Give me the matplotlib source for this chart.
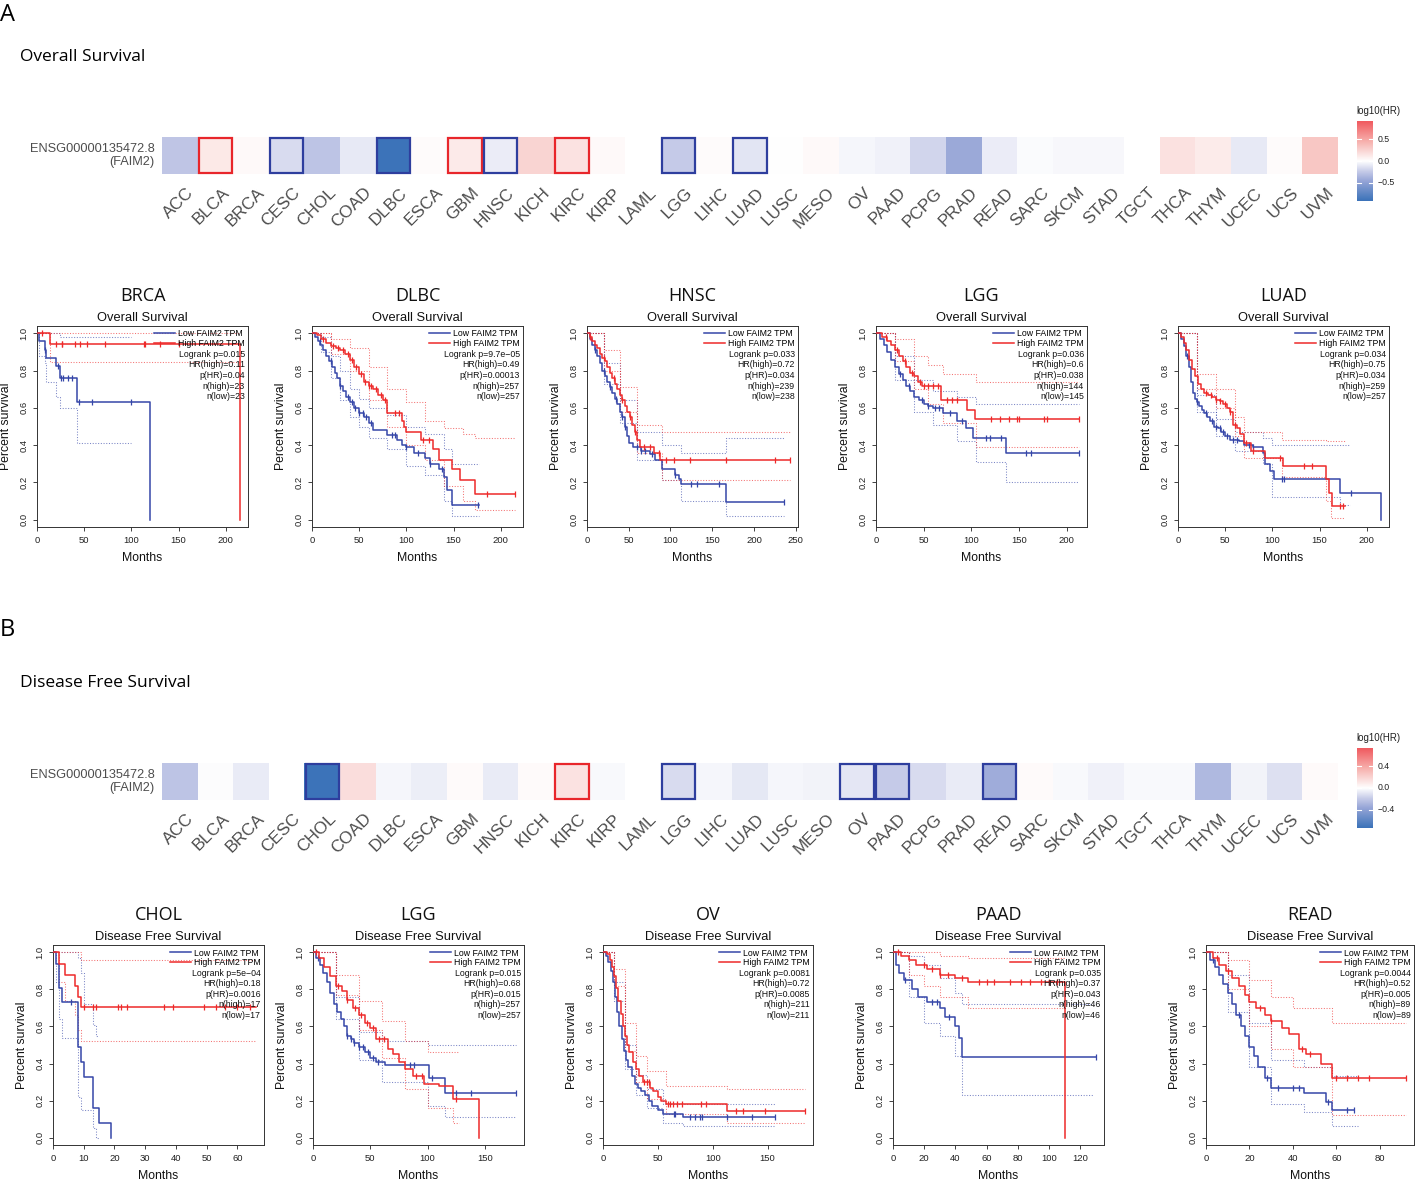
import numpy as np
import matplotlib
matplotlib.use('Agg')
import matplotlib.pyplot as plt
from matplotlib.colors import LinearSegmentedColormap
from matplotlib.patches import Rectangle
from matplotlib.lines import Line2D

plt.rcParams['font.family'] = ['Liberation Sans', 'DejaVu Sans']

W, H = 1417, 1180

# ---------------- heatmap data ----------------
cancers = ["ACC", "BLCA", "BRCA", "CESC", "CHOL", "COAD", "DLBC", "ESCA", "GBM", "HNSC",
           "KICH", "KIRC", "KIRP", "LAML", "LGG", "LIHC", "LUAD", "LUSC", "MESO", "OV",
           "PAAD", "PCPG", "PRAD", "READ", "SARC", "SKCM", "STAD", "TGCT", "THCA", "THYM",
           "UCEC", "UCS", "UVM"]
nan = float('nan')
os_log10hr = [-0.27, 0.13, 0.03, -0.16, -0.28, -0.10, -0.93, 0.02, 0.12, -0.08,
              0.24, 0.16, 0.03, nan, -0.24, 0.02, -0.12, 0.0, 0.03, -0.04,
              -0.06, -0.19, -0.44, -0.08, -0.02, -0.03, -0.03, nan, 0.17, 0.11,
              -0.10, 0.02, 0.32]
os_red_box = ["BLCA", "GBM", "KIRC"]
os_blue_box = ["CESC", "DLBC", "HNSC", "LGG", "LUAD"]
os_limit = 0.93
os_ticks = [0.5, 0.0, -0.5]

dfs_log10hr = [-0.22, -0.01, -0.07, nan, -0.73, 0.15, -0.03, -0.06, 0.02, -0.07,
               0.02, 0.13, -0.02, nan, -0.13, -0.03, -0.08, -0.03, -0.04, -0.09,
               -0.19, -0.13, -0.07, -0.33, 0.02, -0.02, -0.05, -0.02, -0.02, -0.27,
               -0.04, -0.11, 0.02]
dfs_red_box = ["KIRC"]
dfs_blue_box = ["CHOL", "LGG", "OV", "PAAD", "READ"]
dfs_limit = 0.73
dfs_ticks = [0.4, 0.0, -0.4]

# ---------------- Kaplan-Meier data (Overall Survival) ----------------
brca_low = dict(t=[0, 2, 8, 10, 20, 24, 42, 120],
                s=[1.0, 0.957, 0.913, 0.87, 0.826, 0.76, 0.633, 0.0], end=120,
                cens=[9, 22, 25, 28, 33, 37, 44, 58, 100],
                ci_t=[0, 2, 8, 10, 20, 24, 42],
                ci_up=[1, 1, 1, 1, 1, 0.98, 0.98],
                ci_lo=[1, 0.88, 0.84, 0.74, 0.66, 0.60, 0.41], ci_end=100)
brca_high = dict(t=[0, 14, 215], s=[1.0, 0.944, 0.0], end=215,
                 cens=[5, 20, 26, 27, 40, 46, 53, 72, 113, 114, 130, 150],
                 ci_t=[0, 14], ci_up=[1, 1], ci_lo=[1, 0.845], ci_end=215)
brca_stats = ["Logrank p=0.015", "HR(high)=0.11", "p(HR)=0.04", "n(high)=23", "n(low)=23"]

dlbc_low = dict(t=[0, 3, 6, 9, 12, 15, 18, 21, 24, 27, 30, 33, 36, 40, 45, 50, 55, 60, 65, 80,
                   90, 95, 100, 108, 120, 125, 135, 140, 143, 148],
                s=[1.0, 0.98, 0.96, 0.94, 0.91, 0.88, 0.85, 0.82, 0.79, 0.76, 0.72, 0.69, 0.66,
                   0.63, 0.60, 0.575, 0.55, 0.52, 0.48, 0.455, 0.43, 0.40, 0.39, 0.36, 0.33,
                   0.30, 0.27, 0.23, 0.16, 0.08], end=177,
                cens=[8, 20, 30, 38, 42, 46, 50, 54, 57, 62, 85, 88, 100, 112, 125, 138, 176],
                ci_t=[0, 10, 20, 30, 40, 50, 60, 80, 100, 120, 140, 148],
                ci_up=[1, 0.98, 0.88, 0.80, 0.70, 0.65, 0.60, 0.56, 0.50, 0.46, 0.38, 0.30],
                ci_lo=[1, 0.90, 0.76, 0.64, 0.55, 0.50, 0.44, 0.38, 0.29, 0.24, 0.10, 0.02],
                ci_end=177)
dlbc_high = dict(t=[0, 5, 10, 15, 20, 25, 30, 35, 40, 45, 50, 55, 60, 65, 70, 75, 80, 95, 98,
                    100, 116, 128, 135, 148, 157, 173],
                 s=[1.0, 0.99, 0.97, 0.95, 0.93, 0.92, 0.91, 0.89, 0.86, 0.82, 0.78, 0.74, 0.72,
                    0.70, 0.67, 0.64, 0.57, 0.53, 0.50, 0.47, 0.43, 0.38, 0.32, 0.27, 0.21, 0.14],
                 end=215,
                 cens=[12, 22, 28, 33, 38, 42, 47, 52, 56, 60, 63, 68, 73, 77, 88, 92, 118, 124,
                       185, 215],
                 ci_t=[0, 20, 40, 60, 80, 100, 120, 140, 160, 173],
                 ci_up=[1, 0.97, 0.92, 0.82, 0.70, 0.63, 0.53, 0.49, 0.46, 0.44],
                 ci_lo=[1, 0.89, 0.80, 0.64, 0.50, 0.40, 0.32, 0.18, 0.10, 0.05], ci_end=215)
dlbc_stats = ["Logrank p=9.7e\u221205", "HR(high)=0.49", "p(HR)=0.00013", "n(high)=257", "n(low)=257"]

hnsc_low = dict(t=[0, 3, 6, 9, 12, 15, 18, 21, 24, 27, 30, 33, 36, 39, 42, 45, 48, 50, 55, 65,
                   75, 82, 90, 105, 110, 113, 167],
                s=[1.0, 0.97, 0.94, 0.91, 0.88, 0.84, 0.80, 0.77, 0.74, 0.71, 0.68, 0.65, 0.62,
                   0.58, 0.55, 0.50, 0.45, 0.41, 0.39, 0.37, 0.35, 0.32, 0.27, 0.24, 0.22, 0.19,
                   0.095], end=236,
                cens=[10, 20, 28, 35, 42, 46, 60, 65, 70, 78, 105, 125, 132, 158, 236],
                ci_t=[0, 20, 40, 60, 90, 113, 167],
                ci_up=[1, 0.84, 0.64, 0.47, 0.40, 0.36, 0.44],
                ci_lo=[1, 0.73, 0.52, 0.32, 0.21, 0.10, 0.02], ci_end=236)
hnsc_high = dict(t=[0, 3, 6, 9, 12, 15, 18, 21, 24, 27, 30, 33, 36, 39, 42, 45, 48, 51, 54, 57,
                    60, 63, 80, 88],
                 s=[1.0, 0.98, 0.96, 0.94, 0.92, 0.89, 0.87, 0.85, 0.82, 0.79, 0.76, 0.73, 0.70,
                    0.67, 0.64, 0.61, 0.58, 0.55, 0.51, 0.47, 0.43, 0.39, 0.355, 0.32], end=243,
                 cens=[4, 20, 32, 42, 52, 58, 68, 75, 86, 95, 104, 123, 167, 225, 243],
                 ci_t=[0, 20, 40, 60, 90], ci_up=[1, 0.91, 0.71, 0.51, 0.47],
                 ci_lo=[1, 0.80, 0.58, 0.36, 0.21], ci_end=243)
hnsc_stats = ["Logrank p=0.033", "HR(high)=0.72", "p(HR)=0.034", "n(high)=239", "n(low)=238"]

lggos_low = dict(t=[0, 4, 8, 12, 16, 20, 24, 28, 32, 36, 40, 45, 50, 55, 60, 70, 85, 95, 102, 137],
                 s=[1.0, 0.97, 0.94, 0.90, 0.86, 0.82, 0.78, 0.75, 0.72, 0.69, 0.66, 0.64, 0.62,
                    0.61, 0.60, 0.57, 0.53, 0.49, 0.44, 0.355], end=213,
                 cens=[25, 35, 48, 55, 62, 66, 78, 90, 115, 120, 131, 157, 163, 213],
                 ci_t=[0, 20, 40, 60, 85, 105, 137],
                 ci_up=[1, 0.88, 0.75, 0.69, 0.66, 0.62, 0.62],
                 ci_lo=[1, 0.75, 0.58, 0.51, 0.42, 0.31, 0.20], ci_end=213)
lggos_high = dict(t=[0, 6, 12, 16, 20, 24, 28, 32, 36, 40, 44, 48, 68, 96, 104],
                  s=[1.0, 0.98, 0.96, 0.94, 0.91, 0.88, 0.85, 0.82, 0.79, 0.77, 0.74, 0.715, 0.645,
                     0.59, 0.54], end=213,
                  cens=[10, 22, 30, 38, 46, 50, 55, 60, 65, 75, 80, 85, 121, 130, 140, 148, 150,
                        176, 180, 213],
                  ci_t=[0, 20, 40, 55, 70, 105], ci_up=[1, 0.97, 0.88, 0.83, 0.78, 0.74],
                  ci_lo=[1, 0.85, 0.70, 0.62, 0.52, 0.39], ci_end=213)
lggos_stats = ["Logrank p=0.036", "HR(high)=0.6", "p(HR)=0.038", "n(high)=144", "n(low)=145"]

luad_low = dict(t=[0, 3, 6, 9, 12, 14, 16, 18, 20, 22, 25, 28, 31, 34, 38, 42, 46, 50, 55, 65,
                   70, 80, 90, 92, 97, 102, 172, 215],
                s=[1.0, 0.97, 0.93, 0.88, 0.82, 0.74, 0.68, 0.65, 0.63, 0.61, 0.59, 0.57, 0.55,
                   0.53, 0.50, 0.49, 0.47, 0.45, 0.43, 0.42, 0.40, 0.39, 0.36, 0.30, 0.26, 0.22,
                   0.145, 0.0], end=215,
                cens=[10, 20, 30, 36, 40, 44, 48, 52, 58, 62, 75, 80, 110, 112, 183],
                ci_t=[0, 20, 40, 60, 90, 100, 172],
                ci_up=[1, 0.67, 0.54, 0.47, 0.44, 0.40, 0.40],
                ci_lo=[1, 0.58, 0.45, 0.37, 0.30, 0.12, 0.08], ci_end=182)
luad_high = dict(t=[0, 3, 6, 9, 12, 15, 18, 21, 24, 28, 32, 36, 40, 44, 48, 52, 55, 58, 62, 66,
                    70, 77, 92, 111, 157, 160, 163],
                 s=[1.0, 0.98, 0.95, 0.91, 0.86, 0.81, 0.77, 0.73, 0.70, 0.68, 0.67, 0.66, 0.645,
                    0.635, 0.62, 0.60, 0.58, 0.51, 0.49, 0.46, 0.41, 0.37, 0.33, 0.29, 0.22, 0.145,
                    0.075], end=177,
                 cens=[30, 35, 40, 45, 50, 55, 60, 72, 80, 108, 133, 142, 172, 175],
                 ci_t=[0, 20, 40, 60, 70, 110, 157, 162],
                 ci_up=[1, 0.78, 0.70, 0.55, 0.47, 0.43, 0.42, 0.42],
                 ci_lo=[1, 0.70, 0.60, 0.45, 0.33, 0.23, 0.10, 0.01], ci_end=177)
luad_stats = ["Logrank p=0.034", "HR(high)=0.75", "p(HR)=0.034", "n(high)=259", "n(low)=257"]

# ---------------- Kaplan-Meier data (Disease Free Survival) ----------------
chol_low = dict(t=[0, 1, 2, 3, 8, 9, 10, 13, 15, 19],
                s=[1.0, 0.94, 0.81, 0.73, 0.49, 0.41, 0.325, 0.16, 0.08, 0.0], end=19,
                cens=[6],
                ci_t=[0, 1, 2, 3, 8, 9, 10, 13, 14],
                ci_up=[1, 1, 1, 1, 0.97, 0.89, 0.72, 0.61, 0.55],
                ci_lo=[1, 0.84, 0.64, 0.54, 0.22, 0.15, 0.15, 0.05, 0.0], ci_end=15)
chol_high = dict(t=[0, 2, 4, 7, 8, 9], s=[1.0, 0.94, 0.88, 0.82, 0.76, 0.705], end=66,
                 cens=[10, 13, 14, 21, 22, 24, 36, 39, 49, 53, 56, 60, 64],
                 ci_t=[0, 2, 4, 7, 8, 9], ci_up=[1, 1, 1, 1, 1, 0.96],
                 ci_lo=[1, 0.84, 0.74, 0.66, 0.58, 0.52], ci_end=66)
chol_stats = ["Logrank p=5e\u221204", "HR(high)=0.18", "p(HR)=0.0016", "n(high)=17", "n(low)=17"]

lggdfs_low = dict(t=[0, 3, 6, 9, 12, 15, 18, 21, 24, 27, 30, 33, 36, 40, 45, 50, 55, 63, 101, 115],
                  s=[1.0, 0.97, 0.93, 0.89, 0.84, 0.78, 0.72, 0.68, 0.64, 0.60, 0.55, 0.53, 0.51,
                     0.49, 0.46, 0.43, 0.41, 0.39, 0.32, 0.24], end=177,
                  cens=[4, 30, 33, 36, 40, 44, 48, 52, 57, 85, 88, 104, 125, 138, 177],
                  ci_t=[0, 20, 40, 60, 100, 115], ci_up=[1, 0.76, 0.57, 0.52, 0.50, 0.50],
                  ci_lo=[1, 0.64, 0.42, 0.30, 0.17, 0.11], ci_end=177)
lggdfs_high = dict(t=[0, 5, 10, 15, 20, 25, 30, 35, 40, 45, 50, 55, 65, 70, 75, 80, 87, 97, 110,
                      122, 145],
                   s=[1.0, 0.97, 0.92, 0.87, 0.82, 0.79, 0.745, 0.70, 0.66, 0.62, 0.59, 0.53,
                      0.48, 0.45, 0.41, 0.37, 0.33, 0.29, 0.28, 0.21, 0.0], end=145,
                   cens=[3, 22, 30, 37, 42, 47, 52, 58, 62, 90, 95, 125],
                   ci_t=[0, 20, 40, 60, 80, 100, 122],
                   ci_up=[1, 0.88, 0.74, 0.63, 0.52, 0.46, 0.46],
                   ci_lo=[1, 0.77, 0.58, 0.43, 0.26, 0.16, 0.08], ci_end=127)
lggdfs_stats = ["Logrank p=0.015", "HR(high)=0.68", "p(HR)=0.015", "n(high)=257", "n(low)=257"]

ov_low = dict(t=[0, 3, 5, 7, 9, 11, 13, 15, 17, 19, 21, 23, 26, 29, 32, 35, 38, 42, 45, 50, 55, 73],
              s=[1.0, 0.98, 0.95, 0.90, 0.84, 0.76, 0.68, 0.60, 0.53, 0.47, 0.42, 0.38, 0.33,
                 0.29, 0.27, 0.25, 0.23, 0.20, 0.17, 0.15, 0.125, 0.11], end=157,
              cens=[65, 66, 79, 84, 88, 90, 113, 136, 157],
              ci_t=[0, 10, 20, 30, 40, 55, 73],
              ci_up=[1, 0.84, 0.50, 0.34, 0.26, 0.18, 0.18],
              ci_lo=[1, 0.74, 0.37, 0.23, 0.16, 0.08, 0.06], ci_end=157)
ov_high = dict(t=[0, 4, 6, 8, 10, 12, 14, 16, 18, 20, 22, 24, 27, 30, 33, 36, 43, 46, 50, 53, 57, 113],
               s=[1.0, 0.99, 0.96, 0.92, 0.87, 0.81, 0.74, 0.67, 0.60, 0.55, 0.50, 0.46, 0.41,
                  0.37, 0.33, 0.30, 0.27, 0.25, 0.22, 0.20, 0.18, 0.145], end=184,
               cens=[37, 40, 42, 59, 61, 64, 67, 72, 89, 94, 121, 128, 148, 184],
               ci_t=[0, 10, 20, 30, 40, 57, 113],
               ci_up=[1, 0.91, 0.62, 0.44, 0.36, 0.28, 0.26],
               ci_lo=[1, 0.82, 0.47, 0.30, 0.21, 0.13, 0.08], ci_end=184)
ov_stats = ["Logrank p=0.0081", "HR(high)=0.72", "p(HR)=0.0085", "n(high)=211", "n(low)=211"]

paad_low = dict(t=[0, 2, 4, 7, 12, 16, 22, 30, 33, 40, 42, 44],
                s=[1.0, 0.93, 0.89, 0.85, 0.80, 0.76, 0.73, 0.70, 0.65, 0.60, 0.54, 0.435], end=130,
                cens=[8, 25, 28, 36, 130],
                ci_t=[0, 10, 20, 30, 40, 44], ci_up=[1, 0.98, 0.93, 0.86, 0.78, 0.72],
                ci_lo=[1, 0.76, 0.62, 0.55, 0.44, 0.23], ci_end=128)
paad_high = dict(t=[0, 5, 10, 15, 22, 30, 40, 48, 110],
                 s=[1.0, 0.98, 0.96, 0.93, 0.91, 0.88, 0.86, 0.84, 0.0], end=110,
                 cens=[3, 20, 25, 30, 35, 44, 55, 60, 65, 75, 82, 88, 95, 100, 105],
                 ci_t=[0, 10, 20, 30, 48], ci_up=[1, 1, 1, 0.98, 0.97],
                 ci_lo=[1, 0.88, 0.82, 0.76, 0.70], ci_end=110)
paad_stats = ["Logrank p=0.035", "HR(high)=0.37", "p(HR)=0.043", "n(high)=46", "n(low)=46"]

read_low = dict(t=[0, 2, 4, 6, 8, 10, 12, 14, 16, 18, 20, 22, 24, 27, 30, 45, 55, 58],
                s=[1.0, 0.96, 0.92, 0.88, 0.83, 0.78, 0.72, 0.66, 0.60, 0.55, 0.49, 0.44, 0.38,
                   0.32, 0.27, 0.24, 0.19, 0.15], end=68,
                cens=[3, 15, 28, 33, 40, 43, 56, 65, 68],
                ci_t=[0, 10, 20, 30, 45, 58], ci_up=[1, 0.88, 0.62, 0.42, 0.38, 0.33],
                ci_lo=[1, 0.68, 0.38, 0.18, 0.14, 0.06], ci_end=70)
read_high = dict(t=[0, 3, 6, 9, 12, 15, 18, 20, 23, 27, 30, 35, 38, 43, 46, 53, 58],
                 s=[1.0, 0.97, 0.93, 0.90, 0.86, 0.82, 0.77, 0.73, 0.70, 0.66, 0.63, 0.59, 0.56,
                    0.48, 0.45, 0.40, 0.32], end=92,
                 cens=[5, 10, 25, 30, 44, 48, 60, 65, 70, 75, 92],
                 ci_t=[0, 10, 20, 30, 40, 58], ci_up=[1, 0.96, 0.85, 0.76, 0.70, 0.62],
                 ci_lo=[1, 0.80, 0.60, 0.48, 0.38, 0.12], ci_end=92)
read_stats = ["Logrank p=0.0044", "HR(high)=0.52", "p(HR)=0.005", "n(high)=89", "n(low)=89"]

# ---------------- styling ----------------
BLUE = '#3546A8'
RED = '#EE2A2A'
TXT = '#4D4D4D'
cmap = LinearSegmentedColormap.from_list('hr', [
    (0.0, (60/255, 115/255, 185/255)),
    (0.25, (150/255, 165/255, 215/255)),
    (0.375, (200/255, 205/255, 233/255)),
    (0.5, (1, 1, 1)),
    (0.625, (250/255, 215/255, 213/255)),
    (0.75, (247/255, 175/255, 172/255)),
    (1.0, (240/255, 90/255, 95/255))])

fig = plt.figure(figsize=(W / 100, H / 100), dpi=100)


def fx(px):
    return px / W


def fy(py):
    return 1 - py / H


def add_ax(l, t, r, b):
    return fig.add_axes([fx(l), fy(b), (r - l) / W, (b - t) / H])


def heatmap(top, bottom, values, red_box, blue_box, limit, ticks, cb_top, cb_bottom):
    ax = add_ax(162, top, 1338, bottom)
    vals = np.array(values, dtype=float)[None, :]
    masked = np.ma.masked_invalid(vals)
    ax.imshow(masked, cmap=cmap, vmin=-limit, vmax=limit, aspect='auto',
              extent=(-0.5, len(cancers) - 0.5, -0.5, 0.5), interpolation='nearest')
    ax.set_xlim(-0.5, len(cancers) - 0.5)
    ax.set_ylim(-0.5, 0.5)
    ax.axis('off')
    for names, col in ((red_box, '#E8262B'), (blue_box, '#2E3E9E')):
        for nm in names:
            i = cancers.index(nm)
            ax.add_patch(Rectangle((i - 0.47, -0.47), 0.94, 0.94, fill=False,
                                   edgecolor=col, lw=1.6, clip_on=False))
    cw = (1338 - 162) / len(cancers)
    for i, nm in enumerate(cancers):
        fig.text(fx(162 + (i + 0.5) * cw + 6), fy(bottom + 11), nm, rotation=45,
                 ha='right', va='top', rotation_mode='anchor', fontsize=12.3, color=TXT)
    fig.text(fx(155), fy((top + bottom) / 2), "ENSG00000135472.8\n(FAIM2)", ha='right',
             va='center', fontsize=9.2, color=TXT, linespacing=1.1, multialignment='right')
    # colorbar
    cax = add_ax(1357, cb_top, 1373, cb_bottom)
    grad = np.linspace(limit, -limit, 200)[:, None]
    cax.imshow(grad, cmap=cmap, vmin=-limit, vmax=limit, aspect='auto',
               extent=(0, 1, -limit, limit))
    cax.set_xlim(0, 1)
    cax.set_ylim(-limit, limit)
    cax.axis('off')
    for tv in ticks:
        cax.plot([0, 0.22], [tv, tv], color='white', lw=0.8)
        cax.plot([0.78, 1], [tv, tv], color='white', lw=0.8)
        cax.text(1.3, tv, f"{tv:.1f}".replace('-', '\u2212'), fontsize=6.3, va='center',
                 ha='left', color='#222222', transform=cax.transData, clip_on=False)
    fig.text(fx(1356), fy(cb_top - 5), "log10(HR)", fontsize=7, ha='left', va='bottom',
             color='#222222')


def draw_curve(ax, c, color):
    t = list(c['t']) + [c['end']]
    s = list(c['s']) + [c['s'][-1]]
    ax.step(t, s, where='post', color=color, lw=1.1, zorder=3)
    ct = np.array(c['cens'], dtype=float)
    idx = np.searchsorted(np.array(c['t'], dtype=float), ct, side='right') - 1
    cy = np.array(c['s'])[idx]
    ax.plot(ct, cy, '|', color=color, ms=5, mew=0.9, zorder=3)
    for key in ('ci_up', 'ci_lo'):
        t2 = list(c['ci_t']) + [c['ci_end']]
        s2 = list(c[key]) + [c[key][-1]]
        ax.step(t2, s2, where='post', color=color, lw=0.75, ls=(0, (1, 1.6)), alpha=0.65,
                zorder=2)


def km_panel(l, r, top, bottom, name, subtitle, low, high, stats, xticks):
    ax = add_ax(l, top, r, bottom)
    xmax = max(low['end'], high['end']) * 1.04
    draw_curve(ax, low, BLUE)
    draw_curve(ax, high, RED)
    ax.set_xlim(0, xmax)
    ax.set_ylim(-0.04, 1.04)
    ax.set_xticks(xticks)
    ax.set_xticklabels([str(v) for v in xticks])
    yt = [0.0, 0.2, 0.4, 0.6, 0.8, 1.0]
    ax.set_yticks(yt)
    ax.set_yticklabels([f"{v:.1f}" for v in yt])
    ax.tick_params(axis='both', direction='out', length=3.2, width=0.6, labelsize=6.8,
                   pad=3, colors='#222222')
    ax.tick_params(axis='y', pad=3)
    for lab in ax.get_yticklabels():
        lab.set_rotation(90)
        lab.set_va('center')
        lab.set_ha('right')
    for sp in ax.spines.values():
        sp.set_linewidth(0.7)
        sp.set_color('#333333')
    handles = [Line2D([0], [0], color=BLUE, lw=1.1), Line2D([0], [0], color=RED, lw=1.1)]
    ax.legend(handles, ["Low FAIM2 TPM", "High FAIM2 TPM"], loc='upper right',
              bbox_to_anchor=(1.0, 1.0), frameon=False, fontsize=6.3, handlelength=2.4,
              borderaxespad=0.15, borderpad=0.25, labelspacing=0.05, handletextpad=0.3)
    for i, st in enumerate(stats):
        ax.text(0.985, 0.86 - i * 0.053, st, transform=ax.transAxes, ha='right',
                va='center', fontsize=6.3, color='#111111')
    cx = (l + r) / 2
    fig.text(fx(cx), fy(top - 30), name, ha='center', va='center', fontsize=13,
             family=['Open Sans', 'DejaVu Sans'], color='#111111')
    fig.text(fx(cx), fy(top - 8), subtitle, ha='center', va='center', fontsize=9.3,
             color='#111111')
    fig.text(fx(l - 31), fy((top + bottom) / 2), "Percent survival", rotation=90,
             ha='center', va='center', fontsize=8.8, color='#111111')
    fig.text(fx(cx), fy(bottom + 31), "Months", ha='center', va='center', fontsize=8.8,
             color='#111111')
    return ax


# ---------------- section A ----------------
fig.text(fx(0), fy(15), "A", fontsize=17, ha='left', va='center',
         family=['Open Sans', 'DejaVu Sans'])
fig.text(fx(20), fy(57), "Overall Survival", fontsize=12.5, ha='left', va='center',
         family=['Open Sans', 'DejaVu Sans'])
heatmap(137, 174, os_log10hr, os_red_box, os_blue_box, os_limit, os_ticks, 121, 201)

top_row = [(37, 248, "BRCA", brca_low, brca_high, brca_stats, [0, 50, 100, 150, 200]),
           (312, 523, "DLBC", dlbc_low, dlbc_high, dlbc_stats, [0, 50, 100, 150, 200]),
           (587, 798, "HNSC", hnsc_low, hnsc_high, hnsc_stats, [0, 50, 100, 150, 200, 250]),
           (876, 1087, "LGG", lggos_low, lggos_high, lggos_stats, [0, 50, 100, 150, 200]),
           (1178, 1389, "LUAD", luad_low, luad_high, luad_stats, [0, 50, 100, 150, 200])]
for l, r, nm, lo, hi, st, xt in top_row:
    km_panel(l, r, 326, 527, nm, "Overall Survival", lo, hi, st, xt)

# ---------------- section B ----------------
fig.text(fx(0), fy(630), "B", fontsize=17, ha='left', va='center',
         family=['Open Sans', 'DejaVu Sans'])
fig.text(fx(20), fy(683), "Disease Free Survival", fontsize=12.5, ha='left', va='center',
         family=['Open Sans', 'DejaVu Sans'])
heatmap(763, 800, dfs_log10hr, dfs_red_box, dfs_blue_box, dfs_limit, dfs_ticks, 748, 828)

bottom_row = [(53, 264, "CHOL", chol_low, chol_high, chol_stats, [0, 10, 20, 30, 40, 50, 60]),
              (313, 524, "LGG", lggdfs_low, lggdfs_high, lggdfs_stats, [0, 50, 100, 150]),
              (603, 813, "OV", ov_low, ov_high, ov_stats, [0, 50, 100, 150]),
              (893, 1104, "PAAD", paad_low, paad_high, paad_stats, [0, 20, 40, 60, 80, 100, 120]),
              (1206, 1414, "READ", read_low, read_high, read_stats, [0, 20, 40, 60, 80])]
for l, r, nm, lo, hi, st, xt in bottom_row:
    km_panel(l, r, 945, 1145, nm, "Disease Free Survival", lo, hi, st, xt)

fig.savefig("out.png", dpi=100)
